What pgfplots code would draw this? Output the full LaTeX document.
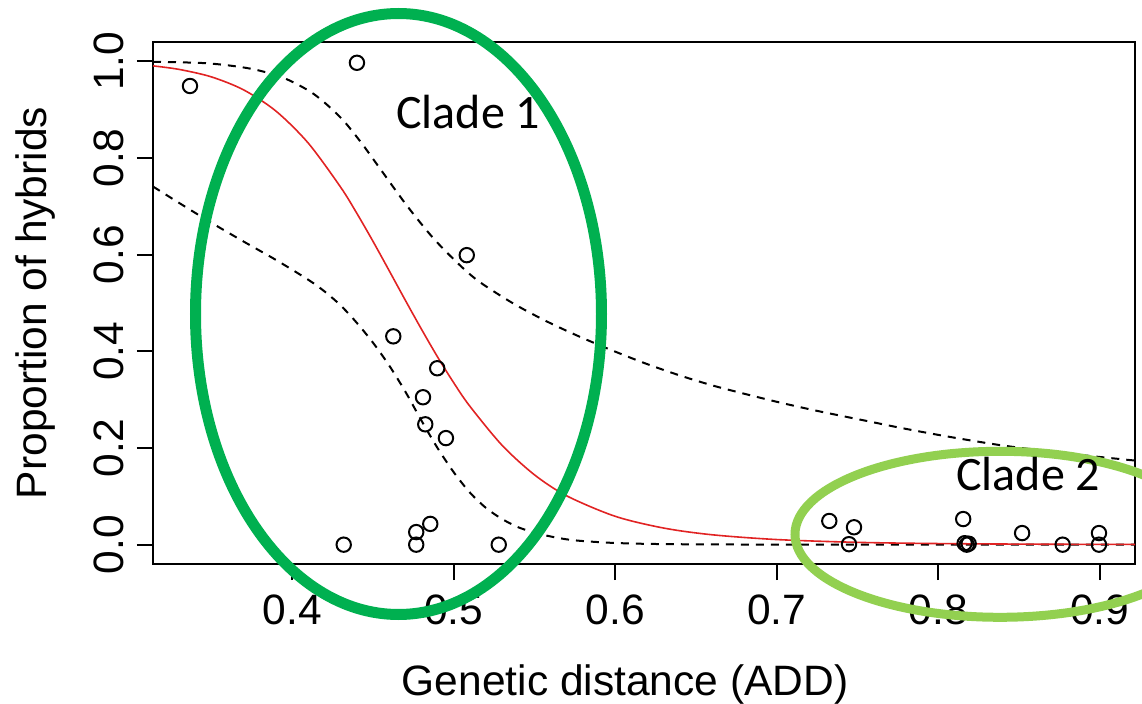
\documentclass[border=0pt]{standalone}
\usepackage{pgfplots}
\pgfplotsset{compat=1.18}
\usepackage{fontspec}
\setmainfont{Liberation Sans}
\newfontfamily\calibri{Carlito}
\definecolor{cladeone}{HTML}{00B050}
\definecolor{cladetwo}{HTML}{92D050}
\definecolor{fitred}{RGB}{225,35,35}
\begin{document}
\begin{tikzpicture}
\useasboundingbox (-76.5pt,-69.5pt) rectangle (494.5pt,282pt);
\clip (-76.5pt,-69.5pt) rectangle (494.5pt,282pt);
\begin{axis}[
  at={(0pt,0pt)}, anchor=south west,
  scale only axis, width=491pt, height=261pt,
  xmin=0.3138, xmax=0.9219, ymin=-0.04, ymax=1.04,
  axis line style={line width=1pt},
  tick align=outside, major tick length=8pt, tick pos=left,
  every tick/.style={black, line width=1pt},
  xtick={0.4,0.5,0.6,0.7,0.8,0.9},
  ytick={0,0.2,0.4,0.6,0.8,1.0},
  tick label style={font=\fontsize{21.25}{25}\selectfont,
    /pgf/number format/fixed, /pgf/number format/fixed zerofill,
    /pgf/number format/precision=1, /pgf/number format/assume math mode=true},
  y tick label style={rotate=90, anchor=south},
  xticklabel shift=4pt, yticklabel shift=3pt,
  xlabel={Genetic distance (ADD)}, ylabel={Proportion of hybrids},
  label style={font=\fontsize{21.25}{25}\selectfont},
  xlabel style={at={(axis description cs:0.4807,-0.251)}, anchor=base},
  ylabel style={at={(axis description cs:-0.108,0.5)}, anchor=base},
]
% upper confidence band
\addplot[black, line width=1pt, dash pattern=on 4pt off 3.5pt, smooth] coordinates {
(0.3138,0.999) (0.3471,0.996) (0.3739,0.985) (0.3945,0.966) (0.4131,0.933)
(0.4296,0.885) (0.4420,0.835) (0.4544,0.778) (0.4709,0.702) (0.4874,0.634)
(0.5039,0.578) (0.5163,0.543) (0.5369,0.499) (0.5576,0.462) (0.5782,0.430)
(0.5988,0.401) (0.6195,0.374) (0.6401,0.350) (0.6607,0.329) (0.6814,0.311)
(0.7021,0.294) (0.7248,0.277) (0.7557,0.256) (0.7763,0.242) (0.7970,0.229)
(0.8177,0.217) (0.8383,0.206) (0.8589,0.197) (0.8900,0.185) (0.9219,0.174)
};
% lower confidence band
\addplot[black, line width=1pt, dash pattern=on 4pt off 3.5pt, smooth] coordinates {
(0.3138,0.741) (0.33,0.707) (0.35,0.666) (0.37,0.627) (0.39,0.589)
(0.41,0.548) (0.42,0.524) (0.43,0.495) (0.44,0.459) (0.45,0.418)
(0.46,0.371) (0.47,0.317) (0.48,0.257) (0.49,0.200) (0.50,0.150)
(0.51,0.108) (0.52,0.076) (0.53,0.053) (0.54,0.036) (0.55,0.025)
(0.56,0.017) (0.57,0.011) (0.58,0.0075) (0.60,0.0035) (0.63,0.0012)
(0.70,0.0002) (0.9219,0)
};
% fitted curve
\addplot[fitred, line width=0.8pt, smooth] coordinates {
(0.3138,0.9906) (0.33,0.9833) (0.35,0.9678) (0.37,0.9408) (0.39,0.8969)
(0.41,0.8306) (0.43,0.7396) (0.44,0.6857) (0.45,0.6278) (0.46,0.5672)
(0.47,0.5060) (0.48,0.4461) (0.49,0.3885) (0.50,0.3351) (0.51,0.2865)
(0.53,0.2055) (0.55,0.1446) (0.57,0.1010) (0.60,0.0587) (0.63,0.0344)
(0.66,0.0205) (0.70,0.0106) (0.75,0.0048) (0.80,0.0023) (0.86,0.0010)
(0.9219,0.00045)
};
% observed proportions
\addplot[black, only marks, mark=o, mark size=3.6pt, mark options={line width=1pt}] coordinates {
(0.3367,0.949) (0.4401,0.997) (0.5081,0.599) (0.4626,0.431) (0.4898,0.365)
(0.4810,0.305) (0.4824,0.249) (0.4952,0.2205) (0.4319,0) (0.4768,0.026)
(0.4768,0) (0.4855,0.043) (0.5279,0)
(0.7326,0.049) (0.7479,0.036) (0.7448,0.001) (0.8155,0.053)
(0.8164,0.003) (0.8177,0) (0.8189,0.002)
(0.8520,0.024) (0.8771,0) (0.8996,0.024) (0.8996,0)
};
\end{axis}
\draw[cladeone, line width=5.5pt] (122.75pt,125pt) ellipse [x radius=101.5pt, y radius=150.25pt];
\draw[cladetwo, line width=4.5pt] (423.5pt,14.85pt) ellipse [x radius=102.5pt, y radius=41.5pt];
\node[anchor=base west, inner sep=0pt, font=\calibri\fontsize{24}{28}\selectfont] at (121.5pt,217.85pt) {Clade 1};
\node[anchor=base west, inner sep=0pt, font=\calibri\fontsize{24}{28}\selectfont] at (401.5pt,36.65pt) {Clade 2};
\end{tikzpicture}
\end{document}
